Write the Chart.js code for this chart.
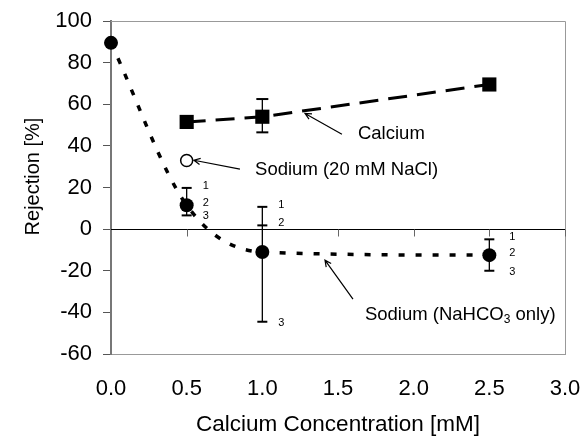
<!DOCTYPE html>
<html>
<head>
<meta charset="utf-8">
<script src="https://cdn.jsdelivr.net/npm/chart.js@4"></script>
<style>
  html, body { margin: 0; padding: 0; background: #fff; }
</style>
</head>
<body>
<canvas id="chart" width="585" height="438"></canvas>
<script>
// calcium concentration [mM] and rejection [%]
const concNaHCO3 = [0, 0.5, 1.0, 2.5];
const rejNaHCO3 = [89.5, 11.5, -11, -12.5];
const errHighNaHCO3 = [null, 19.8, 10.7, -4.9];
const errMidNaHCO3 = [null, null, 1.8, null];
const errLowNaHCO3 = [null, 6.6, -44.5, -20];

const concCa = [0.5, 1.0, 2.5];
const rejCa = [51.5, 54, 69.5];
const errHighCa = [null, 62.5, null];
const errLowCa = [null, 46.5, null];

const concNaCl = [0.5];
const rejNaCl = [33];

const xTicks = [0, 0.5, 1.0, 1.5, 2.0, 2.5, 3.0];
const yTicks = [-60, -40, -20, 0, 20, 40, 60, 80, 100];

const FONT = '"Liberation Sans", Arial, sans-serif';

const pts = (xs, ys) => xs.map((v, i) => ({ x: v, y: ys[i] }));

function arrow(ctx, x1, y1, x2, y2) {
  const ang = Math.atan2(y2 - y1, x2 - x1);
  const h = 7;
  ctx.beginPath();
  ctx.moveTo(x1, y1);
  ctx.lineTo(x2, y2);
  ctx.moveTo(x2 - h * Math.cos(ang - 0.45), y2 - h * Math.sin(ang - 0.45));
  ctx.lineTo(x2, y2);
  ctx.lineTo(x2 - h * Math.cos(ang + 0.45), y2 - h * Math.sin(ang + 0.45));
  ctx.stroke();
}

function errBar(ctx, x, y, xv, vals, half) {
  const v = vals.filter(d => d !== null);
  if (!v.length) return;
  const px = x.getPixelForValue(xv);
  ctx.lineWidth = 1.3;
  ctx.beginPath();
  ctx.moveTo(px, y.getPixelForValue(Math.max(...v)));
  ctx.lineTo(px, y.getPixelForValue(Math.min(...v)));
  ctx.stroke();
  ctx.lineWidth = 2;
  v.forEach(d => {
    const py = y.getPixelForValue(d);
    ctx.beginPath();
    ctx.moveTo(px - half, py);
    ctx.lineTo(px + half, py);
    ctx.stroke();
  });
}

const extras = {
  id: 'extras',
  beforeDatasetsDraw(chart) {
    const { ctx, chartArea: a, scales: { x, y } } = chart;
    ctx.save();
    // top and right frame
    ctx.strokeStyle = '#999';
    ctx.lineWidth = 1;
    ctx.beginPath();
    ctx.moveTo(a.left, a.top + 0.5);
    ctx.lineTo(a.right + 0.5, a.top + 0.5);
    ctx.lineTo(a.right + 0.5, a.bottom);
    ctx.stroke();
    // x axis crossing at y = 0
    const y0 = Math.round(y.getPixelForValue(0)) + 0.5;
    ctx.strokeStyle = '#000';
    ctx.beginPath();
    ctx.moveTo(a.left, y0);
    ctx.lineTo(a.right, y0);
    ctx.stroke();
    ctx.strokeStyle = '#666';
    xTicks.forEach(t => {
      if (t <= 0) return;
      const px = Math.round(x.getPixelForValue(t)) + 0.5;
      ctx.beginPath();
      ctx.moveTo(px, y0);
      ctx.lineTo(px, y0 + 7);
      ctx.stroke();
    });
    // error bars
    ctx.strokeStyle = '#000';
    concNaHCO3.forEach((c, i) => errBar(ctx, x, y, c, [errHighNaHCO3[i], errMidNaHCO3[i], errLowNaHCO3[i]], 5));
    concCa.forEach((c, i) => errBar(ctx, x, y, c, [errHighCa[i], errLowCa[i]], 6));
    // replicate numbers next to the sodium bars
    ctx.fillStyle = '#000';
    ctx.font = '11px ' + FONT;
    ctx.textAlign = 'left';
    ctx.textBaseline = 'middle';
    concNaHCO3.forEach((c, i) => {
      if (errHighNaHCO3[i] === null) return;
      const px = x.getPixelForValue(c) + (c > 2 ? 20 : 16);
      const mid = errMidNaHCO3[i] !== null ? errMidNaHCO3[i] : rejNaHCO3[i];
      ctx.fillText('1', px, y.getPixelForValue(errHighNaHCO3[i]) - 2);
      ctx.fillText('2', px, y.getPixelForValue(mid) - 2);
      ctx.fillText('3', px, y.getPixelForValue(errLowNaHCO3[i]) + 1);
    });
    ctx.restore();
  },
  afterDatasetsDraw(chart) {
    const { ctx, scales: { x, y } } = chart;
    const X = v => x.getPixelForValue(v);
    const Y = v => y.getPixelForValue(v);
    ctx.save();
    ctx.fillStyle = '#000';
    ctx.strokeStyle = '#000';
    ctx.lineWidth = 1.2;
    ctx.font = '18.5px ' + FONT;
    ctx.textAlign = 'left';
    ctx.textBaseline = 'middle';

    ctx.fillText('Calcium', X(1.632), Y(45.6));
    arrow(ctx, X(1.526), Y(45.6), X(1.282), Y(55.6));

    ctx.fillText('Sodium (20 mM NaCl)', X(0.952), Y(28.3));
    arrow(ctx, X(0.852), Y(28.8), X(0.548), Y(33.1));

    let tx = X(1.678);
    const ty = Y(-41.2);
    const s1 = 'Sodium (NaHCO';
    ctx.fillText(s1, tx, ty);
    tx += ctx.measureText(s1).width;
    ctx.font = '12px ' + FONT;
    ctx.fillText('3', tx, ty + 5);
    tx += ctx.measureText('3').width;
    ctx.font = '18.5px ' + FONT;
    ctx.fillText(' only)', tx, ty);
    arrow(ctx, X(1.599), Y(-33.6), X(1.414), Y(-14.9));

    // y axis title
    ctx.translate(33, 176.5);
    ctx.rotate(-Math.PI / 2);
    ctx.textAlign = 'center';
    ctx.font = '20px ' + FONT;
    ctx.fillText('Rejection [%]', 0, 0);
    ctx.restore();
  }
};

new Chart(document.getElementById('chart').getContext('2d'), {
  type: 'scatter',
  data: {
    datasets: [
      {
        label: 'Sodium (NaHCO3 only)',
        data: pts(concNaHCO3, rejNaHCO3),
        showLine: true,
        clip: false,
        cubicInterpolationMode: 'monotone',
        borderColor: '#000',
        borderWidth: 3.5,
        borderDash: [6, 11],
        pointStyle: 'circle',
        pointRadius: 7,
        pointBackgroundColor: '#000',
        pointBorderColor: '#000',
        pointBorderWidth: 0
      },
      {
        label: 'Calcium',
        data: pts(concCa, rejCa),
        showLine: true,
        clip: false,
        tension: 0,
        borderColor: '#000',
        borderWidth: 3,
        borderDash: [19, 10],
        pointStyle: 'rect',
        pointRadius: 10,
        pointBackgroundColor: '#000',
        pointBorderColor: '#000',
        pointBorderWidth: 0
      },
      {
        label: 'Sodium (20 mM NaCl)',
        data: pts(concNaCl, rejNaCl),
        showLine: false,
        pointStyle: 'circle',
        pointRadius: 6,
        pointBackgroundColor: '#fff',
        pointBorderColor: '#000',
        pointBorderWidth: 1.5
      }
    ]
  },
  options: {
    responsive: false,
    animation: false,
    layout: { padding: { top: 21, right: 20, left: 0, bottom: 0 } },
    plugins: {
      legend: { display: false },
      tooltip: { enabled: false }
    },
    scales: {
      x: {
        type: 'linear',
        min: 0,
        max: 3,
        afterFit: s => { s.height = 84; s.paddingLeft = 0; s.paddingRight = 0; },
        afterBuildTicks: s => { s.ticks = xTicks.map(v => ({ value: v })); },
        grid: { display: false, drawTicks: false },
        border: { display: true, color: '#999', width: 1 },
        ticks: {
          padding: 22,
          color: '#000',
          font: { family: FONT, size: 22 },
          callback: v => Number(v).toFixed(1)
        },
        title: {
          display: true,
          text: 'Calcium Concentration [mM]',
          color: '#000',
          font: { family: FONT, size: 22.5 },
          padding: { top: 0, bottom: 0 }
        }
      },
      y: {
        min: -60,
        max: 100,
        afterFit: s => { s.width = 111; s.paddingTop = 0; s.paddingBottom = 0; },
        afterBuildTicks: s => { s.ticks = yTicks.map(v => ({ value: v })); },
        grid: { drawOnChartArea: false, drawTicks: true, tickLength: 8, color: '#555' },
        border: { display: true, color: '#777', width: 2 },
        ticks: {
          padding: 11,
          color: '#000',
          font: { family: FONT, size: 22 }
        },
        title: { display: false }
      }
    }
  },
  plugins: [extras]
});
</script>
</body>
</html>
